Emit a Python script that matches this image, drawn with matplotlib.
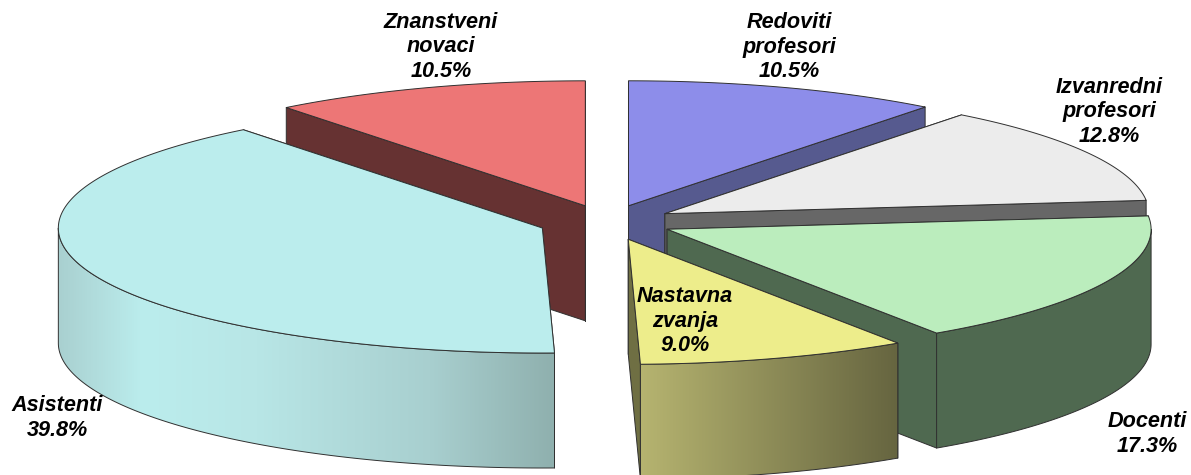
import numpy as np
import matplotlib
matplotlib.use("Agg")
import matplotlib.pyplot as plt
from matplotlib.colors import LinearSegmentedColormap
from matplotlib.patches import Polygon

categories = ["Redoviti\nprofesori", "Izvanredni\nprofesori", "Docenti",
              "Nastavna\nzvanja", "Asistenti", "Znanstveni\nnovaci"]
values = [10.5, 12.8, 17.3, 9.0, 39.8, 10.5]
top_colors = ["#8d8dea", "#ececec", "#bbedbd", "#eded8b", "#bbeded", "#ed7676"]
wall_colors = ["#565a8f", "#676767", "#4f6950", "#6f6f43", "#8fb0ae", "#663232"]
label_xy = [(789, 47), (1109, 112), (1147, 434), (685, 321), (57, 418), (441, 47)]
explode = [0.137, 0.137, 0.137, 0.145, 0.142, 0.137]

W, H = 1191, 475
CX, CY = 607, 222
A, B, DEPTH = 484, 125, 115
OUTER_RAMPS = {
    3: [(0.0, "#b6b470"), (1.0, "#666540")],
    4: [(0.0, "#a9d0d0"), (0.17, "#bbeded"), (0.40, "#b8e6e6"), (0.75, "#a8cfcf"), (1.0, "#8fb0ae")],
}
EDGE = dict(edgecolor="#303030", linewidth=0.7, joinstyle="round")

plt.rcParams["font.family"] = ["Liberation Sans", "DejaVu Sans"]
fig = plt.figure(figsize=(W / 100, H / 100), dpi=100, facecolor="white")
ax = fig.add_axes([0, 0, 1, 1])
ax.set_xlim(0, W)
ax.set_ylim(H, 0)
ax.axis("off")

total = 100.0
starts = np.cumsum([0] + values[:-1]) / total * 2 * np.pi
ends = np.cumsum(values) / total * 2 * np.pi
ends[-1] = 2 * np.pi


def rim(x0, y0, t):
    return x0 + A * np.sin(t), y0 - B * np.cos(t)


def wall(x0, y0, t, color, z):
    x1, y1 = rim(x0, y0, t)
    ax.add_patch(Polygon([(x0, y0), (x1, y1), (x1, y1 + DEPTH), (x0, y0 + DEPTH)],
                         facecolor=color, zorder=z, **EDGE))


# back-to-front painting order
order = [5, 0, 1, 2, 3, 4]
for z, i in enumerate(order):
    z0 = 10 * (z + 1)
    mid = (starts[i] + ends[i]) / 2
    x0 = CX + explode[i] * A * np.sin(mid)
    y0 = CY - explode[i] * B * np.cos(mid)
    wall(x0, y0, starts[i], wall_colors[i], z0)
    wall(x0, y0, ends[i], wall_colors[i], z0 + 1)

    # curved outer side: only the front half of the rim can be seen
    lo, hi = max(starts[i], np.pi / 2), min(ends[i], 3 * np.pi / 2)
    if hi > lo:
        t = np.linspace(lo, hi, 200)
        xs, ys = rim(x0, y0, t)
        pts = np.r_[np.c_[xs, ys], np.c_[xs, ys + DEPTH][::-1]]
        if i in OUTER_RAMPS:
            left, right = xs.min(), xs.max()
            cmap = LinearSegmentedColormap.from_list("ramp", OUTER_RAMPS[i])
            grad = np.linspace(0, 1, 512).reshape(1, -1)
            clip = Polygon(pts, closed=True, transform=ax.transData, facecolor="none")
            im = ax.imshow(grad, cmap=cmap, extent=(left, right, ys.max() + DEPTH, ys.min()),
                           aspect="auto", zorder=z0 + 2)
            im.set_clip_path(clip)
            ax.add_patch(Polygon(pts, facecolor="none", zorder=z0 + 3, **EDGE))
        else:
            ax.add_patch(Polygon(pts, facecolor=wall_colors[i], zorder=z0 + 3, **EDGE))

    # top face
    t = np.linspace(starts[i], ends[i], 300)
    xs, ys = rim(x0, y0, t)
    ax.add_patch(Polygon(np.r_[[(x0, y0)], np.c_[xs, ys]], facecolor=top_colors[i],
                         zorder=z0 + 4, **EDGE))

ax.set_xlim(0, W)
ax.set_ylim(H, 0)

for name, v, (lx, ly) in zip(categories, values, label_xy):
    ax.text(lx, ly, f"{name}\n{v:.1f}%", ha="center", va="center", fontsize=15.6,
            fontweight="bold", fontstyle="italic", color="black", linespacing=1.22,
            zorder=200)

fig.savefig("out.png", dpi=100, facecolor="white")
